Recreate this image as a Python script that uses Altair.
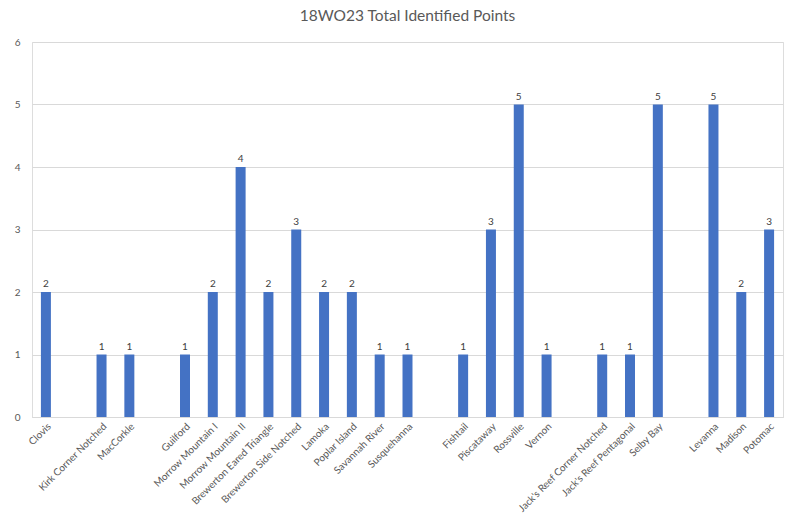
import altair as alt
import pandas as pd

# Point types in chart order; blank slots separate the cultural periods
categories = [
    "Clovis", " ",
    "Kirk Corner Notched", "MacCorkle", "  ",
    "Guilford", "Morrow Mountain I", "Morrow Mountain II",
    "Brewerton Eared Triangle", "Brewerton Side Notched", "Lamoka",
    "Poplar Island", "Savannah River", "Susquehanna", "   ",
    "Fishtail", "Piscataway", "Rossville", "Vernon", "    ",
    "Jack's Reef Corner Notched", "Jack's Reef Pentagonal", "Selby Bay", "     ",
    "Levanna", "Madison", "Potomac",
]
counts = [
    2, None,
    1, 1, None,
    1, 2, 4,
    2, 3, 2,
    2, 1, 1, None,
    1, 3, 5, 1, None,
    1, 1, 5, None,
    5, 2, 3,
]

df = pd.DataFrame({"type": categories, "count": counts})
bars_df = df.dropna()

FONT = "Lato"
GREY = "#595959"

x = alt.X(
    "type:N",
    scale=alt.Scale(domain=categories, paddingInner=0.64, paddingOuter=0.32),
    sort=None,
    axis=alt.Axis(
        title=None,
        labelAngle=-45,
        labelFontSize=10,
        labelColor=GREY,
        labelFont=FONT,
        ticks=False,
        grid=False,
        domainColor="#d9d9d9",
        labelPadding=4,
        labelLimit=200,
    ),
)
y = alt.Y(
    "count:Q",
    scale=alt.Scale(domain=[0, 6]),
    axis=alt.Axis(
        title=None,
        values=[0, 1, 2, 3, 4, 5, 6],
        labelFontSize=10,
        labelColor=GREY,
        labelFont=FONT,
        ticks=False,
        domain=False,
        gridColor="#d9d9d9",
        labelPadding=12,
    ),
)

bars = alt.Chart(bars_df).mark_bar(color="#4472C4", size=10).encode(x=x, y=y)
labels = alt.Chart(bars_df).mark_text(
    dy=-8, fontSize=10, color="#404040", font=FONT
).encode(x=x, y=y, text=alt.Text("count:Q", format="d"))

chart = (
    alt.layer(bars, labels)
    .properties(
        width=751,
        height=375,
        title=alt.TitleParams(
            "18WO23 Total Identified Points",
            fontSize=15.5,
            font=FONT,
            fontWeight="normal",
            color=GREY,
            anchor="middle",
            offset=13,
        ),
        autosize=alt.AutoSizeParams(type="none"),
        padding={"left": 32, "top": 42, "right": 13, "bottom": 101},
    )
    .configure_view(strokeWidth=0, strokeOpacity=0)
    .configure_axis(domain=False)
    .configure_axisX(domain=True, domainColor="#d9d9d9")
    .configure(background="white")
)

chart.save("out.html", embed_options={"renderer": "svg", "actions": False})
